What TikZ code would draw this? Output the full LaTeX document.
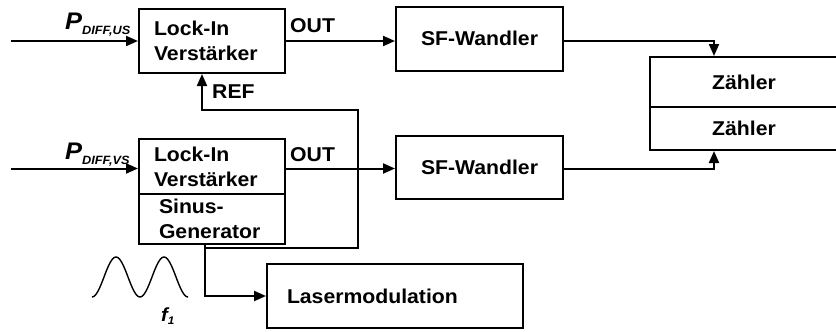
\documentclass[tikz,border=0pt]{standalone}
\usepackage{fontspec}
\setmainfont[FakeStretch=1.06]{Liberation Sans}
\usetikzlibrary{arrows.meta}
\begin{document}
\begin{tikzpicture}[x=1pt,y=-1pt,
  blk/.style={draw, line width=2pt, inner sep=0pt, font=\bfseries\fontsize{20}{25}\selectfont},
  lbl/.style={inner sep=0pt, font=\bfseries\fontsize{20}{25}\selectfont},
  conn/.style={line width=2pt},
  arr/.style={conn, -{Triangle[length=12pt,width=10pt]}}]
\clip (0,0) rectangle (836,332);
% boxes
\node[blk, minimum width=146, minimum height=64, text width=116, align=left] (lockus) at (212,41) {Lock-In\\Verstärker};
\node[blk, minimum width=146, minimum height=55, text width=116, align=left] (lockvs) at (212,166.5) {Lock-In\\Verstärker};
\node[blk, minimum width=146, minimum height=50, text width=106, align=left] (sinus) at (212,219) {Sinus-\\Generator};
\node[blk, minimum width=167, minimum height=64, align=center] (sfus) at (479.5,38.7) {SF-Wandler};
\node[blk, minimum width=167, minimum height=63, align=center] (sfvs) at (479.5,167.5) {SF-Wandler};
\node[blk, minimum width=188, minimum height=50, align=center] (z1) at (744,82) {Zähler};
\node[blk, minimum width=188, minimum height=43, align=center] (z2) at (744,128.5) {Zähler};
\node[blk, minimum width=256, minimum height=64, text width=216, align=left] (laser) at (395,296) {Lasermodulation};
% labels
\node[lbl, anchor=base west] (outus) at (290,32) {OUT};
\node[lbl, anchor=base west] (outvs) at (290,161.5) {OUT};
\node[lbl, anchor=base west] (ref) at (212,98) {REF};
\node[inner sep=0pt, anchor=base west] (pus) at (65,30) {\bfseries\itshape\fontsize{24}{24}\selectfont P\raisebox{-5pt}{\fontsize{12}{12}\selectfont DIFF,US}};
\node[inner sep=0pt, anchor=base west] (pvs) at (65,159) {\bfseries\itshape\fontsize{24}{24}\selectfont P\raisebox{-5pt}{\fontsize{12}{12}\selectfont DIFF,VS}};
\node[inner sep=0pt, anchor=base west] (f1) at (161,321) {\bfseries\itshape\fontsize{19}{19}\selectfont f\raisebox{-3pt}{\fontsize{11}{11}\selectfont 1}};
% sine wave
\draw[line width=1.4pt] plot[domain=92:188, samples=97, smooth] (\x,{277+20*cos(7.5*(\x-92))});
% coordinates
\coordinate (usin) at (11,41);
\coordinate (vsin) at (11,168.5);
\coordinate (sgout) at ([xshift=-7pt]sinus.south);
\coordinate (split) at (205,248);
\coordinate (c1) at (358,248);
\coordinate (c2) at (358,110);
\coordinate (c3) at (202,110);
% connectors
\draw[arr] (usin) -- (lockus.west);
\draw[arr] (lockus.east) -- (lockus.east -| sfus.west);
\draw[arr] (sfus.east |- lockus.east) -| ([xshift=-30pt]z1.north);
\draw[arr] (vsin) -- (vsin -| lockvs.west);
\draw[arr] (vsin -| lockvs.east) -- (vsin -| sfvs.west);
\draw[arr] (vsin -| sfvs.east) -| ([xshift=-30pt]z2.south);
\draw[conn] (sgout) -- (split);
\draw[arr] (split) |- (laser.west);
\draw[arr] (split) -- (c1) -- (c2) -- (c3) -- (c3 |- lockus.south);
\end{tikzpicture}
\end{document}
